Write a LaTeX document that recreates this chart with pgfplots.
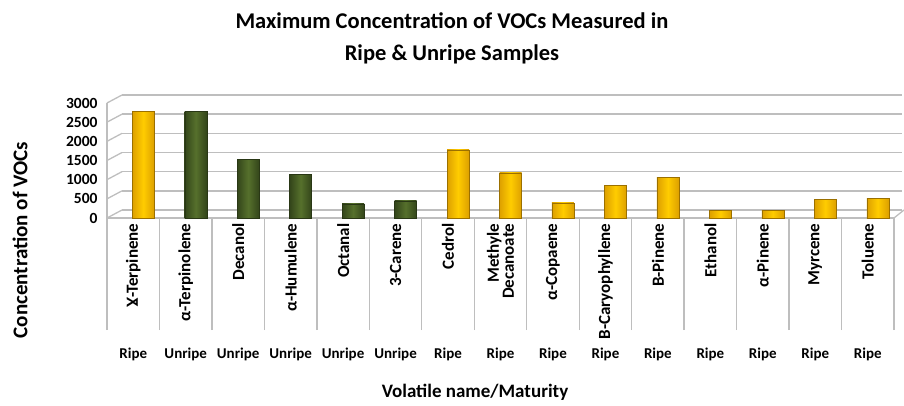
\documentclass[border=0pt]{standalone}
\usepackage{pgfplots}
\pgfplotsset{compat=1.18}
\usepackage{fontspec}
\setmainfont{Carlito}
\definecolor{ripe}{HTML}{FFCC00}
\definecolor{ripedark}{HTML}{DDA000}
\definecolor{unripe}{HTML}{56702C}
\definecolor{unripedark}{HTML}{33451A}
\definecolor{gridgray}{HTML}{BEBEBE}
\pgfplotsset{
  ripebar/.style={draw=ripedark!70!black, line width=0.4pt, left color=ripedark, right color=ripedark, middle color=ripe},
  unripebar/.style={draw=unripedark!80!black, line width=0.4pt, left color=unripedark, right color=unripedark, middle color=unripe},
}
\begin{document}
\begin{tikzpicture}[x=1pt,y=1pt]
\path[use as bounding box] (0,0) rectangle (904,405);
% back wall
\begin{axis}[
  at={(122pt,195pt)}, anchor=south west, scale only axis,
  width=780pt, height=115pt,
  xmin=0, xmax=1, ymin=0, ymax=3000,
  axis line style={draw=none}, xtick=\empty, ytick={0,500,...,3000}, yticklabels={},
  major tick length=0pt, ymajorgrids,
  grid style={gridgray, line width=1.6pt},
]
\addplot[draw=none] coordinates {(0,0)};
\end{axis}
% main axis
\begin{axis}[
  at={(107pt,187pt)}, anchor=south west, scale only axis,
  width=787pt, height=115pt,
  xmin=-0.5, xmax=14.5, ymin=0, ymax=3000,
  axis x line*=bottom, axis y line*=left,
  axis line style={gridgray, line width=1.3pt},
  ytick={0,500,...,3000},
  /pgf/number format/assume math mode=true,
  /pgf/number format/1000 sep={},
  yticklabel style={font=\bfseries\fontsize{15.5}{17}\selectfont, xshift=-6pt},
  major tick length=0pt,
  xtick={0,...,14},
  xticklabels={Ɣ-Terpinene,α-Terpinolene,Decanol,α-Humulene,Octanal,3-Carene,Cedrol,{Methyle\\Decanoate},α-Copaene,B-Caryophyllene,B-Pinene,Ethanol,α-Pinene,Myrcene,Toluene},
  xticklabel style={rotate=90, anchor=east, align=right, font=\bfseries\fontsize{17}{15}\selectfont, xshift=-2pt},
  minor xtick={-0.5,0.5,...,14.5},
  minor tick length=112pt, tick align=outside,
  minor tick style={gridgray, line width=1.3pt},
  clip=false,
  ybar, bar width=22pt, bar shift=10pt,
]
\addplot[ripebar] coordinates {(0,2790)};
\addplot[unripebar] coordinates {(1,2790)};
\addplot[unripebar] coordinates {(2,1530)};
\addplot[unripebar] coordinates {(3,1140)};
\addplot[unripebar] coordinates {(4,370)};
\addplot[unripebar] coordinates {(5,450)};
\addplot[ripebar] coordinates {(6,1780)};
\addplot[ripebar] coordinates {(7,1180)};
\addplot[ripebar] coordinates {(8,395)};
\addplot[ripebar] coordinates {(9,860)};
\addplot[ripebar] coordinates {(10,1060)};
\addplot[ripebar] coordinates {(11,200)};
\addplot[ripebar] coordinates {(12,200)};
\addplot[ripebar] coordinates {(13,480)};
\addplot[ripebar] coordinates {(14,510)};
\pgfplotsinvokeforeach{0,500,1000,1500,2000,2500,3000}{
  \draw[gridgray, line width=1.3pt] (axis cs:-0.5,#1) -- ++(15pt,8pt);
}
\draw[gridgray, line width=1.3pt] (axis cs:14.5,0) -- ++(10pt,8pt);
\end{axis}
% maturity row
\begin{axis}[
  at={(107pt,187pt)}, anchor=south west, scale only axis,
  width=787pt, height=115pt,
  xmin=-0.5, xmax=14.5, ymin=0, ymax=1,
  axis line style={draw=none}, ytick=\empty, major tick length=0pt,
  xtick={0,...,14},
  xticklabels={Ripe,Unripe,Unripe,Unripe,Unripe,Unripe,Ripe,Ripe,Ripe,Ripe,Ripe,Ripe,Ripe,Ripe,Ripe},
  xticklabel style={anchor=center, yshift=-136pt, font=\bfseries\fontsize{15}{17}\selectfont},
]
\addplot[draw=none] coordinates {(0,0)};
\end{axis}
\node[font=\bfseries\fontsize{22.5}{32}\selectfont, align=center] at (452,367) {Maximum Concentration of VOCs Measured in\\Ripe \& Unripe Samples};
\node[font=\bfseries\fontsize{21}{22}\selectfont, rotate=90] at (20,165) {Concentration of VOCs};
\node[font=\bfseries\fontsize{19}{22}\selectfont] at (475,13) {Volatile name/Maturity};
\end{tikzpicture}
\end{document}
